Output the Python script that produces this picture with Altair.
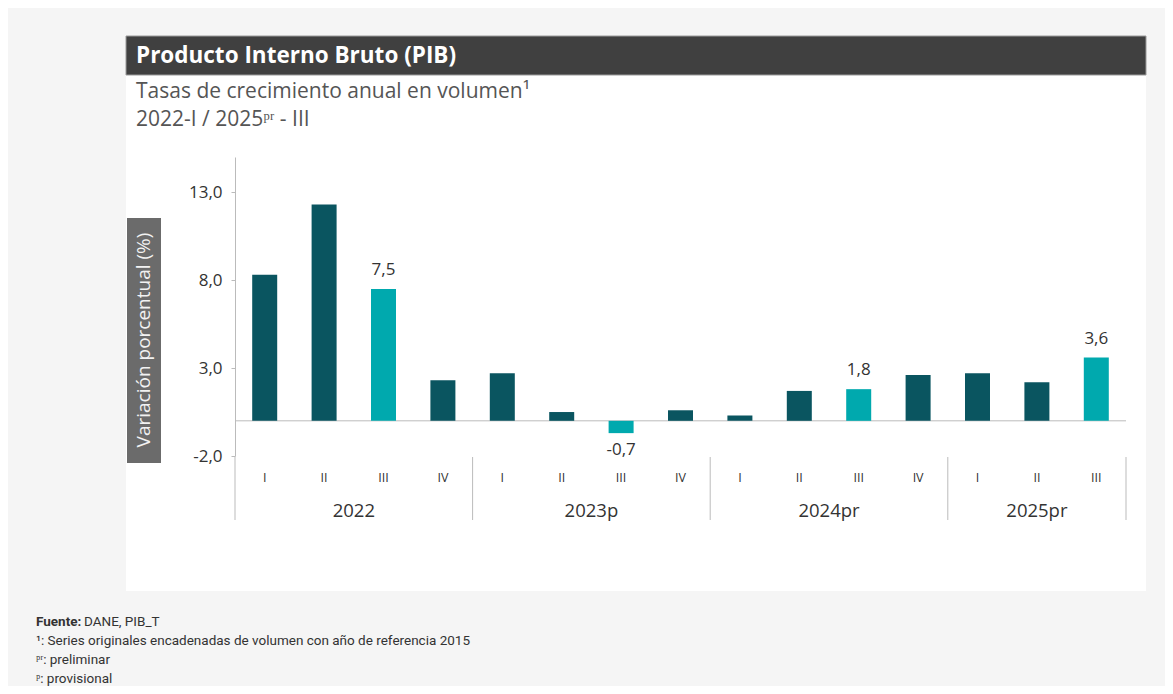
import altair as alt
import pandas as pd

# ---------------- data ----------------
years = ["2022"] * 4 + ["2023p"] * 4 + ["2024pr"] * 4 + ["2025pr"] * 3
quarters = ["I", "II", "III", "IV", "I", "II", "III", "IV", "I", "II", "III", "IV", "I", "II", "III"]
values = [8.3, 12.3, 7.5, 2.3, 2.7, 0.5, -0.7, 0.6, 0.3, 1.7, 1.8, 2.6, 2.7, 2.2, 3.6]
highlight = [False, False, True, False, False, False, True, False,
             False, False, True, False, False, False, True]

year_labels = ["2022", "2023p", "2024pr", "2025pr"]
year_start = [0, 4, 8, 12]
year_end = [4, 8, 12, 15]
separators = [0, 4, 8, 12, 15]

y_ticks = [-2, 3, 8, 13]

title_text = "Producto Interno Bruto (PIB)"
subtitle_1 = "Tasas de crecimiento anual en volumen\u00b9"
subtitle_2 = "2022-I / 2025\u1d56\u02b3 - III"
y_title = "Variación porcentual (%)"
foot_bold = "Fuente:"
foot_1 = "DANE, PIB_T"
foot_2 = "\u00b9: Series originales encadenadas de volumen con año de referencia 2015"
foot_3 = "\u1d56\u02b3: preliminar"
foot_4 = "\u1d56: provisional"

DARK = "#0a5560"
LIGHT = "#00a9ae"
FONT = "Open Sans"
FMT = "replace(replace(format({v}, '.1f'), '.', ','), '\u2212', '-')"

W, H = 891, 299

df = pd.DataFrame({
    "idx": list(range(len(values))),
    "year": years,
    "quarter": quarters,
    "value": values,
    "hl": highlight,
})
df["pos"] = df["idx"] + 0.5

ydf = pd.DataFrame({"year": year_labels, "start": year_start, "end": year_end})
sdf = pd.DataFrame({"sep": separators})
one = pd.DataFrame({"k": [0]})

xs = alt.Scale(domain=[0, 15], nice=False, zero=False, padding=0)
ys = alt.Scale(domain=[-2, 15], nice=False, zero=False, padding=0)
yaxis = alt.Axis(
    values=y_ticks, title=None, grid=False, domain=True, domainColor="#bbbbbb",
    ticks=True, tickColor="#bbbbbb", tickSize=4, labelPadding=9,
    labelFontSize=17, labelColor="#333333", labelFont=FONT, zindex=1,
    labelExpr=FMT.format(v="datum.value"))


def txt(s, x, y, size, color="#333333", weight="normal", align="left", font=FONT, angle=None, baseline="alphabetic"):
    kw = dict(align=align, baseline=baseline, fontSize=size, color=color, fontWeight=weight, font=font)
    if angle is not None:
        kw["angle"] = angle
    return alt.Chart(pd.DataFrame({"t": [s]})).mark_text(**kw).encode(
        x=alt.value(x), y=alt.value(y), text="t:N"
    )


def box(x, x2, y, y2, color, stroke=None):
    kw = dict(color=color)
    if stroke:
        kw.update(stroke=stroke, strokeWidth=1)
    return alt.Chart(one).mark_rect(**kw).encode(
        x=alt.value(x), x2=alt.value(x2), y=alt.value(y), y2=alt.value(y2)
    )


panel = box(-109, 911, -121, 434, "#ffffff")
title_bar = box(-109, 911, -121, -82, "#404040", stroke="#9a9a9a")
y_box = box(-108, -74, 61, 306, "#6b6b6b")

title = txt(title_text, -99, -94, 22.5, color="#ffffff", weight="bold")
sub1 = txt(subtitle_1, -99, -59, 21, color="#555555")
sub2 = txt(subtitle_2, -99, -31, 21, color="#555555")
ytitle = txt(y_title, -91, 183, 19, color="#f2f2f2", align="center", angle=270, baseline="middle")

FS = 13.5
f0 = txt(foot_bold, -199, 469, FS, color="#333333", weight="bold", font="Roboto")
f1 = txt(foot_1, -151, 469, FS, color="#333333", font="Roboto")
f2 = txt(foot_2, -199, 488, FS, color="#333333", font="Roboto")
f3 = txt(foot_3, -199, 507, FS, color="#333333", font="Roboto")
f4 = txt(foot_4, -199, 526, FS, color="#333333", font="Roboto")

zero = alt.Chart(one).mark_rule(color="#bbbbbb", strokeWidth=1).encode(
    y=alt.Y("k:Q", scale=ys, axis=yaxis), x=alt.value(0), x2=alt.value(W)
)

bars = alt.Chart(df).mark_bar(size=25).encode(
    x=alt.X("pos:Q", scale=xs, axis=None),
    y=alt.Y("value:Q", scale=ys, axis=yaxis),
    color=alt.condition("datum.hl", alt.value(LIGHT), alt.value(DARK)),
)

lab_base = alt.Chart(df).transform_filter("datum.hl").transform_calculate(
    lab=FMT.format(v="datum.value")
)
lab_pos = lab_base.transform_filter("datum.value >= 0").mark_text(
    baseline="alphabetic", dy=-14, fontSize=17, color="#333333", font=FONT
).encode(x=alt.X("pos:Q", scale=xs, axis=None), y=alt.Y("value:Q", scale=ys, axis=yaxis), text="lab:N")
lab_neg = lab_base.transform_filter("datum.value < 0").mark_text(
    baseline="top", dy=9, fontSize=17, color="#333333", font=FONT
).encode(x=alt.X("pos:Q", scale=xs, axis=None), y=alt.Y("value:Q", scale=ys, axis=yaxis), text="lab:N")

qlab = alt.Chart(df).mark_text(baseline="middle", fontSize=12.5, color="#333333", font=FONT).encode(
    x=alt.X("pos:Q", scale=xs, axis=None), y=alt.value(321), text="quarter:N"
)

ylab = alt.Chart(ydf).transform_calculate(mid="(datum.start + datum.end) / 2").mark_text(
    baseline="middle", fontSize=18.5, color="#333333", font=FONT
).encode(x=alt.X("mid:Q", scale=xs, axis=None), y=alt.value(354), text="year:N")

seps = alt.Chart(sdf).mark_rule(color="#bbbbbb", strokeWidth=1).encode(
    x=alt.X("sep:Q", scale=xs, axis=None), y=alt.value(300), y2=alt.value(363)
)

chart = alt.layer(
    panel, title_bar, y_box, title, sub1, sub2, ytitle,
    zero, seps, bars, lab_pos, lab_neg, qlab, ylab,
    f0, f1, f2, f3, f4,
).properties(
    width=W, height=H,
    padding={"left": 227, "top": 149, "right": 39, "bottom": 230},
    autosize=alt.AutoSizeParams(type="none"),
).configure(background="#f5f5f5").configure_view(stroke=None)

chart.save("out.html", embed_options={"renderer": "svg", "actions": False})
